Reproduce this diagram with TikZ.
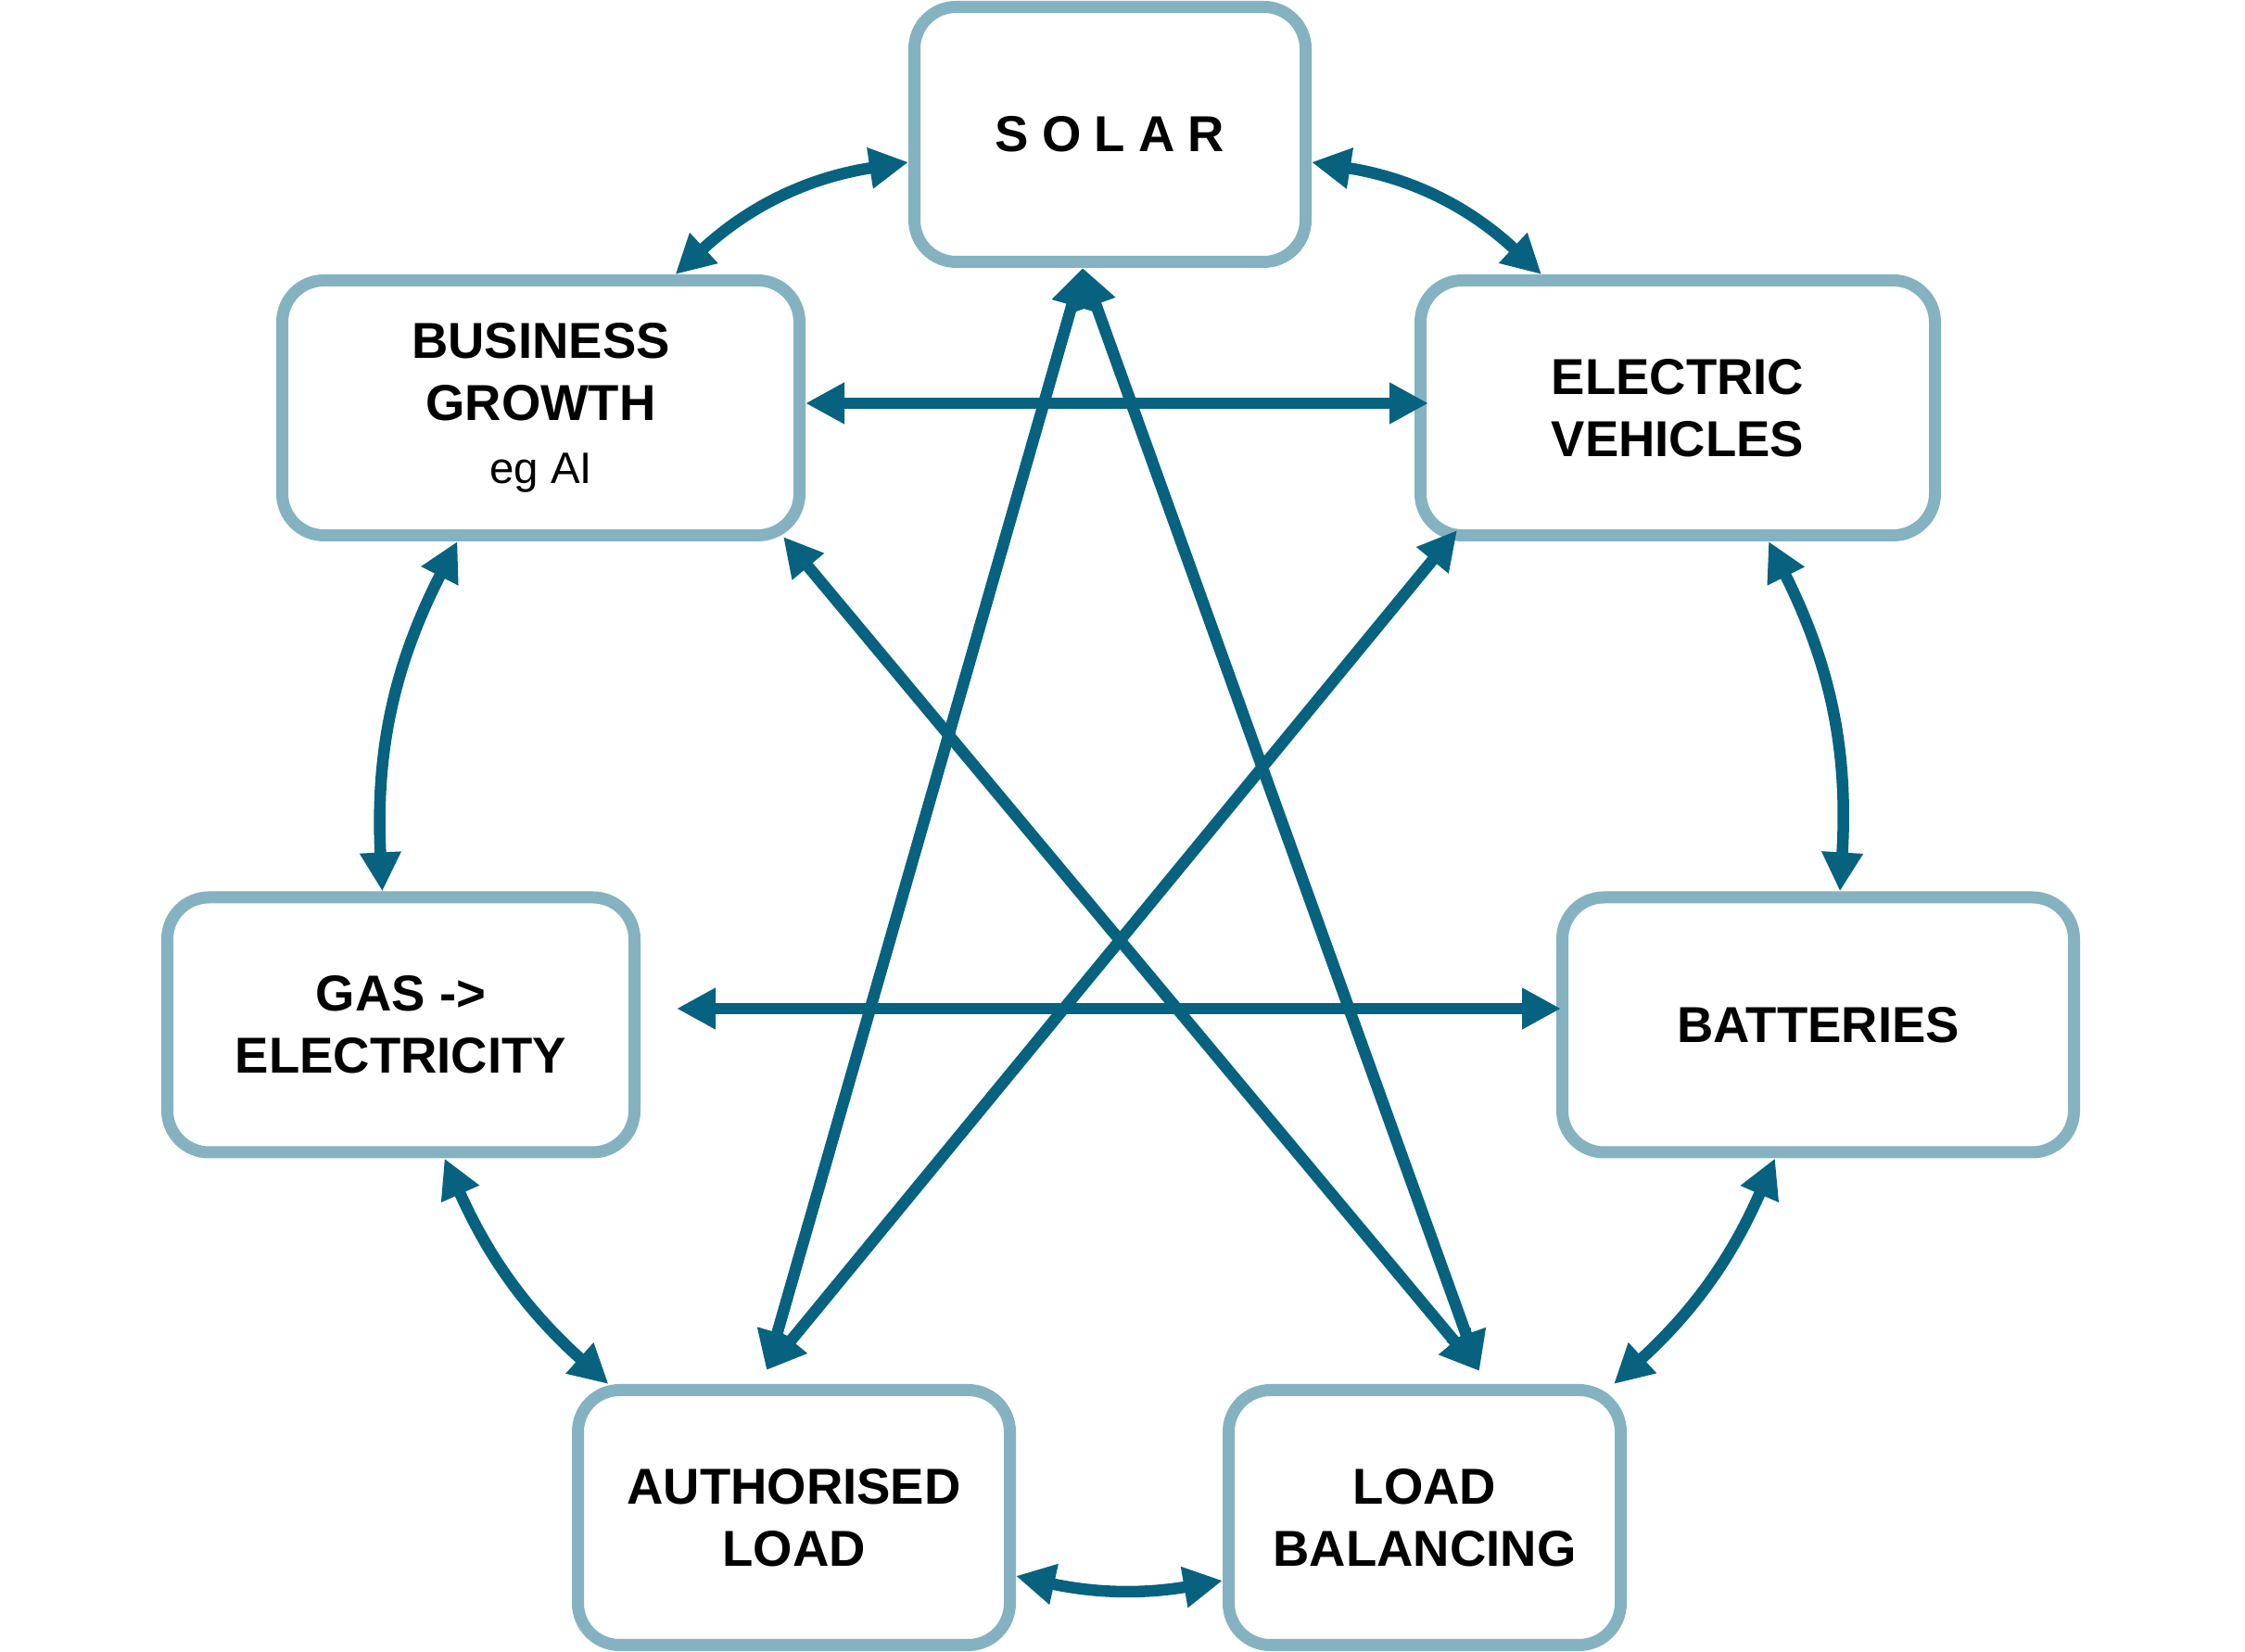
\documentclass[tikz,border=0pt]{standalone}
\usepackage{fontspec}
\setmainfont{Liberation Sans}
\usetikzlibrary{arrows.meta}

\definecolor{boxrim}{RGB}{132,178,192}
\definecolor{linkteal}{RGB}{6,98,127}

\tikzset{
  % Topic boxes
  topicbox/.style = { draw=boxrim, line width=1.3mm, rounded corners=4.5mm, fill=white,
                      minimum height=2.75cm, inner sep=0, align=center,
                      font=\fontsize{15.5}{19}\selectfont\bfseries },
  % Links between topics (both ways)
  twoway/.style   = { draw=linkteal, line width=1.25mm,
                      {Triangle[length=4.2mm, width=4.2mm]}-{Triangle[length=4.2mm, width=4.2mm]} }
}

\begin{document}
\begin{tikzpicture}

  \useasboundingbox (0,0) rectangle (24.22,17.82);

  \node[topicbox, minimum width=4.22cm] (solar)  at (11.975,16.37) {\addfontfeature{LetterSpace=26}SOLAR};
  \node[topicbox, minimum width=5.58cm] (growth) at (5.835,13.42)  {BUSINESS\\GROWTH\\[0.5pt]{\fontsize{13.5}{16}\selectfont\mdseries eg AI}};
  \node[topicbox, minimum width=5.55cm] (ev)     at (18.10,13.42)  {ELECTRIC\\VEHICLES};
  \node[topicbox, minimum width=5.04cm] (gas)    at (4.325,6.765)  {GAS ->\\ELECTRICITY};
  \node[topicbox, minimum width=5.52cm] (bat)    at (19.615,6.765) {BATTERIES};
  \node[topicbox, minimum width=4.66cm] (al)     at (8.565,1.45)   {AUTHORISED\\LOAD};
  \node[topicbox, minimum width=4.23cm] (lb)     at (15.37,1.45)   {LOAD\\BALANCING};

  % --- ring: neighbours -----------------------------------------------
  \draw[twoway] ([xshift=1.45cm]growth.north) to[bend left=17] ([yshift=-0.3cm]solar.west);
  \draw[twoway] ([yshift=-0.3cm]solar.east) to[bend left=17] ([xshift=-1.47cm]ev.north);
  \draw[twoway] ([xshift=-0.9cm]growth.south) to[bend right=15] ([xshift=-0.2cm]gas.north);
  \draw[twoway] ([xshift=0.98cm]ev.south) to[bend left=15] ([xshift=0.235cm]bat.north);
  \draw[twoway] ([xshift=0.47cm]gas.south) to[bend right=12] ([xshift=-2.0cm]al.north);
  \draw[twoway] ([xshift=-0.465cm]bat.south) to[bend left=12] ([xshift=2.04cm]lb.north);
  \draw[twoway] ([yshift=-0.63cm]al.east) to[bend right=11] ([yshift=-0.68cm]lb.west);

  % --- straight links across the middle -------------------------------
  \draw[twoway] ([yshift=0.05cm]growth.east) -- ([xshift=0.15cm,yshift=0.05cm]ev.west);
  \draw[twoway] ([xshift=0.39cm,yshift=0.175cm]gas.east) -- ([xshift=0.05cm,yshift=0.175cm]bat.west);

  % --- star: shared tips
  \coordinate (solarfoot) at ([xshift=-0.295cm]solar.south);
  \coordinate (alhead)    at ([xshift=-0.295cm,yshift=0.15cm]al.north);
  \coordinate (lbhead)    at ([xshift=0.59cm,yshift=0.14cm]lb.north);
  \coordinate (growthfoot) at ([xshift=-0.24cm,yshift=0.05cm]growth.south east);
  \coordinate (evfoot)    at ([xshift=0.46cm,yshift=0.12cm]ev.south west);

  \foreach \a/\b in {solarfoot/alhead, solarfoot/lbhead, growthfoot/lbhead, evfoot/alhead}
    \draw[twoway] (\a) -- (\b);

\end{tikzpicture}
\end{document}
